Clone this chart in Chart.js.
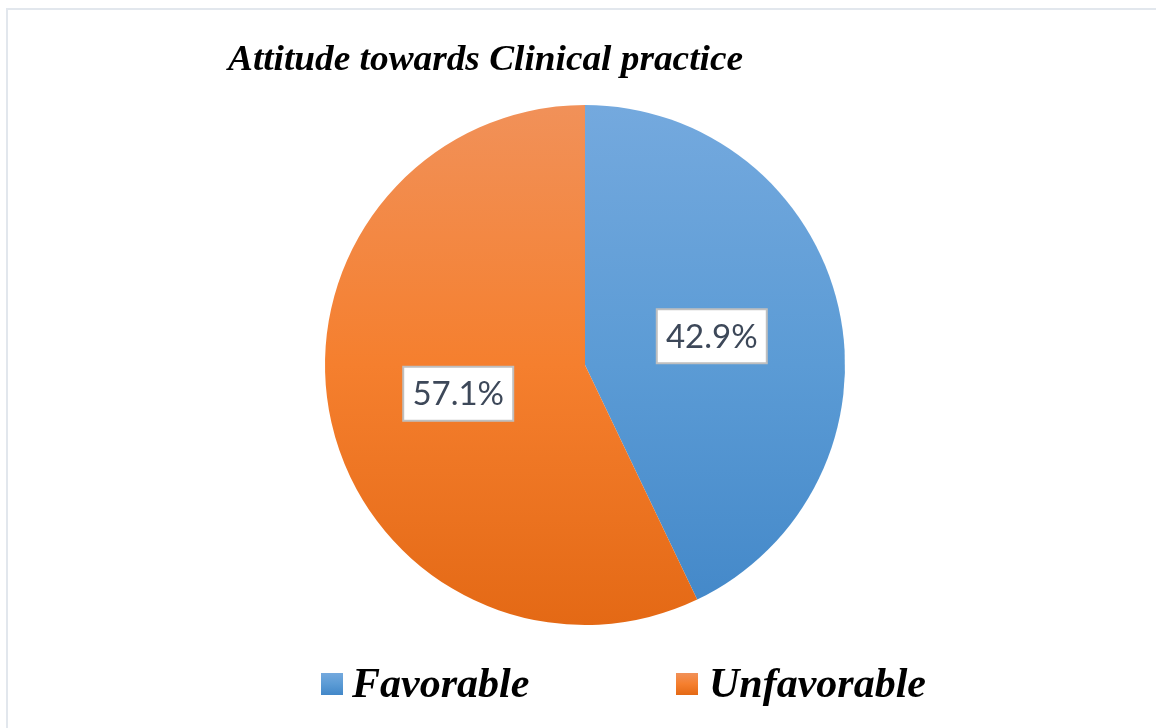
<!DOCTYPE html>
<html>
<head>
<meta charset="utf-8">
<script src="https://cdn.jsdelivr.net/npm/chart.js@4.4.1/dist/chart.umd.min.js"></script>
<style>
  html, body { margin: 0; padding: 0; background: #ffffff; }
  #wrap { position: relative; width: 1156px; height: 728px; overflow: hidden; }
  #frame { position: absolute; left: 6px; top: 8px; width: 1300px; height: 900px;
           border-left: 2px solid #e2e7ed; border-top: 2px solid #e2e7ed; pointer-events: none; }
  canvas { position: absolute; left: 0; top: 0; }
</style>
</head>
<body>
<div id="wrap">
  <canvas id="c" width="1156" height="728"></canvas>
  <div id="frame"></div>
</div>
<script>
const chartTitle = "Attitude towards Clinical practice";
const categories = ["Favorable", "Unfavorable"];
const values = [42.9, 57.1];
const valueLabels = ["42.9%", "57.1%"];
const gradientStops = [
  ["#74a9de", "#5b9bd5", "#4287c8"],
  ["#f19159", "#f57f2e", "#e46915"]
];

function makeGradient(ctx, y0, y1, stops) {
  const g = ctx.createLinearGradient(0, y0, 0, y1);
  g.addColorStop(0, stops[0]);
  g.addColorStop(0.5, stops[1]);
  g.addColorStop(1, stops[2]);
  return g;
}

const overlayPlugin = {
  id: 'overlay',
  afterDatasetsDraw(chart) {
    const ctx = chart.ctx;
    const meta = chart.getDatasetMeta(0);
    ctx.save();
    ctx.font = '33px Lato, "Open Sans", sans-serif';
    ctx.textAlign = 'center';
    ctx.textBaseline = 'middle';
    meta.data.forEach((arc, i) => {
      const p = arc.getCenterPoint();
      const w = 110, h = 54;
      ctx.fillStyle = '#ffffff';
      ctx.fillRect(p.x - w / 2, p.y - h / 2, w, h);
      ctx.strokeStyle = '#bfbfbf';
      ctx.lineWidth = 2;
      ctx.strokeRect(p.x - w / 2, p.y - h / 2, w, h);
      ctx.fillStyle = '#3d4859';
      ctx.fillText(valueLabels[i], p.x, p.y + 1);
    });
    ctx.restore();
  },
  afterDraw(chart) {
    const ctx = chart.ctx;
    ctx.save();
    ctx.fillStyle = '#000000';
    ctx.textAlign = 'left';
    ctx.textBaseline = 'alphabetic';
    ctx.font = 'italic bold 35px "Liberation Serif", "Times New Roman", serif';
    const tw = ctx.measureText(chartTitle).width;
    const sx = 515 / tw;
    ctx.save();
    ctx.translate(228, 70);
    ctx.scale(sx, 1);
    ctx.fillText(chartTitle, 0, 0);
    ctx.restore();
    const items = [
      { box: 321, text: 352 },
      { box: 676, text: 709 }
    ];
    ctx.font = 'italic bold 42px "Liberation Serif", "Times New Roman", serif';
    categories.forEach((name, i) => {
      const it = items[i];
      ctx.fillStyle = makeGradient(ctx, 673, 695, gradientStops[i]);
      ctx.fillRect(it.box, 673, 22, 22);
      ctx.fillStyle = '#000000';
      ctx.fillText(name, it.text, 697);
    });
    ctx.restore();
  }
};

new Chart(document.getElementById('c'), {
  type: 'pie',
  data: {
    labels: categories,
    datasets: [{
      data: values,
      borderWidth: 0,
      backgroundColor: (context) => {
        const chart = context.chart;
        const area = chart.chartArea;
        if (!area) return gradientStops[context.dataIndex][1];
        return makeGradient(chart.ctx, area.top, area.bottom, gradientStops[context.dataIndex]);
      }
    }]
  },
  options: {
    responsive: false,
    animation: false,
    layout: { padding: { top: 105, bottom: 103, left: 325, right: 311 } },
    plugins: {
      legend: { display: false },
      title: { display: false },
      tooltip: { enabled: false }
    }
  },
  plugins: [overlayPlugin]
});
</script>
</body>
</html>
